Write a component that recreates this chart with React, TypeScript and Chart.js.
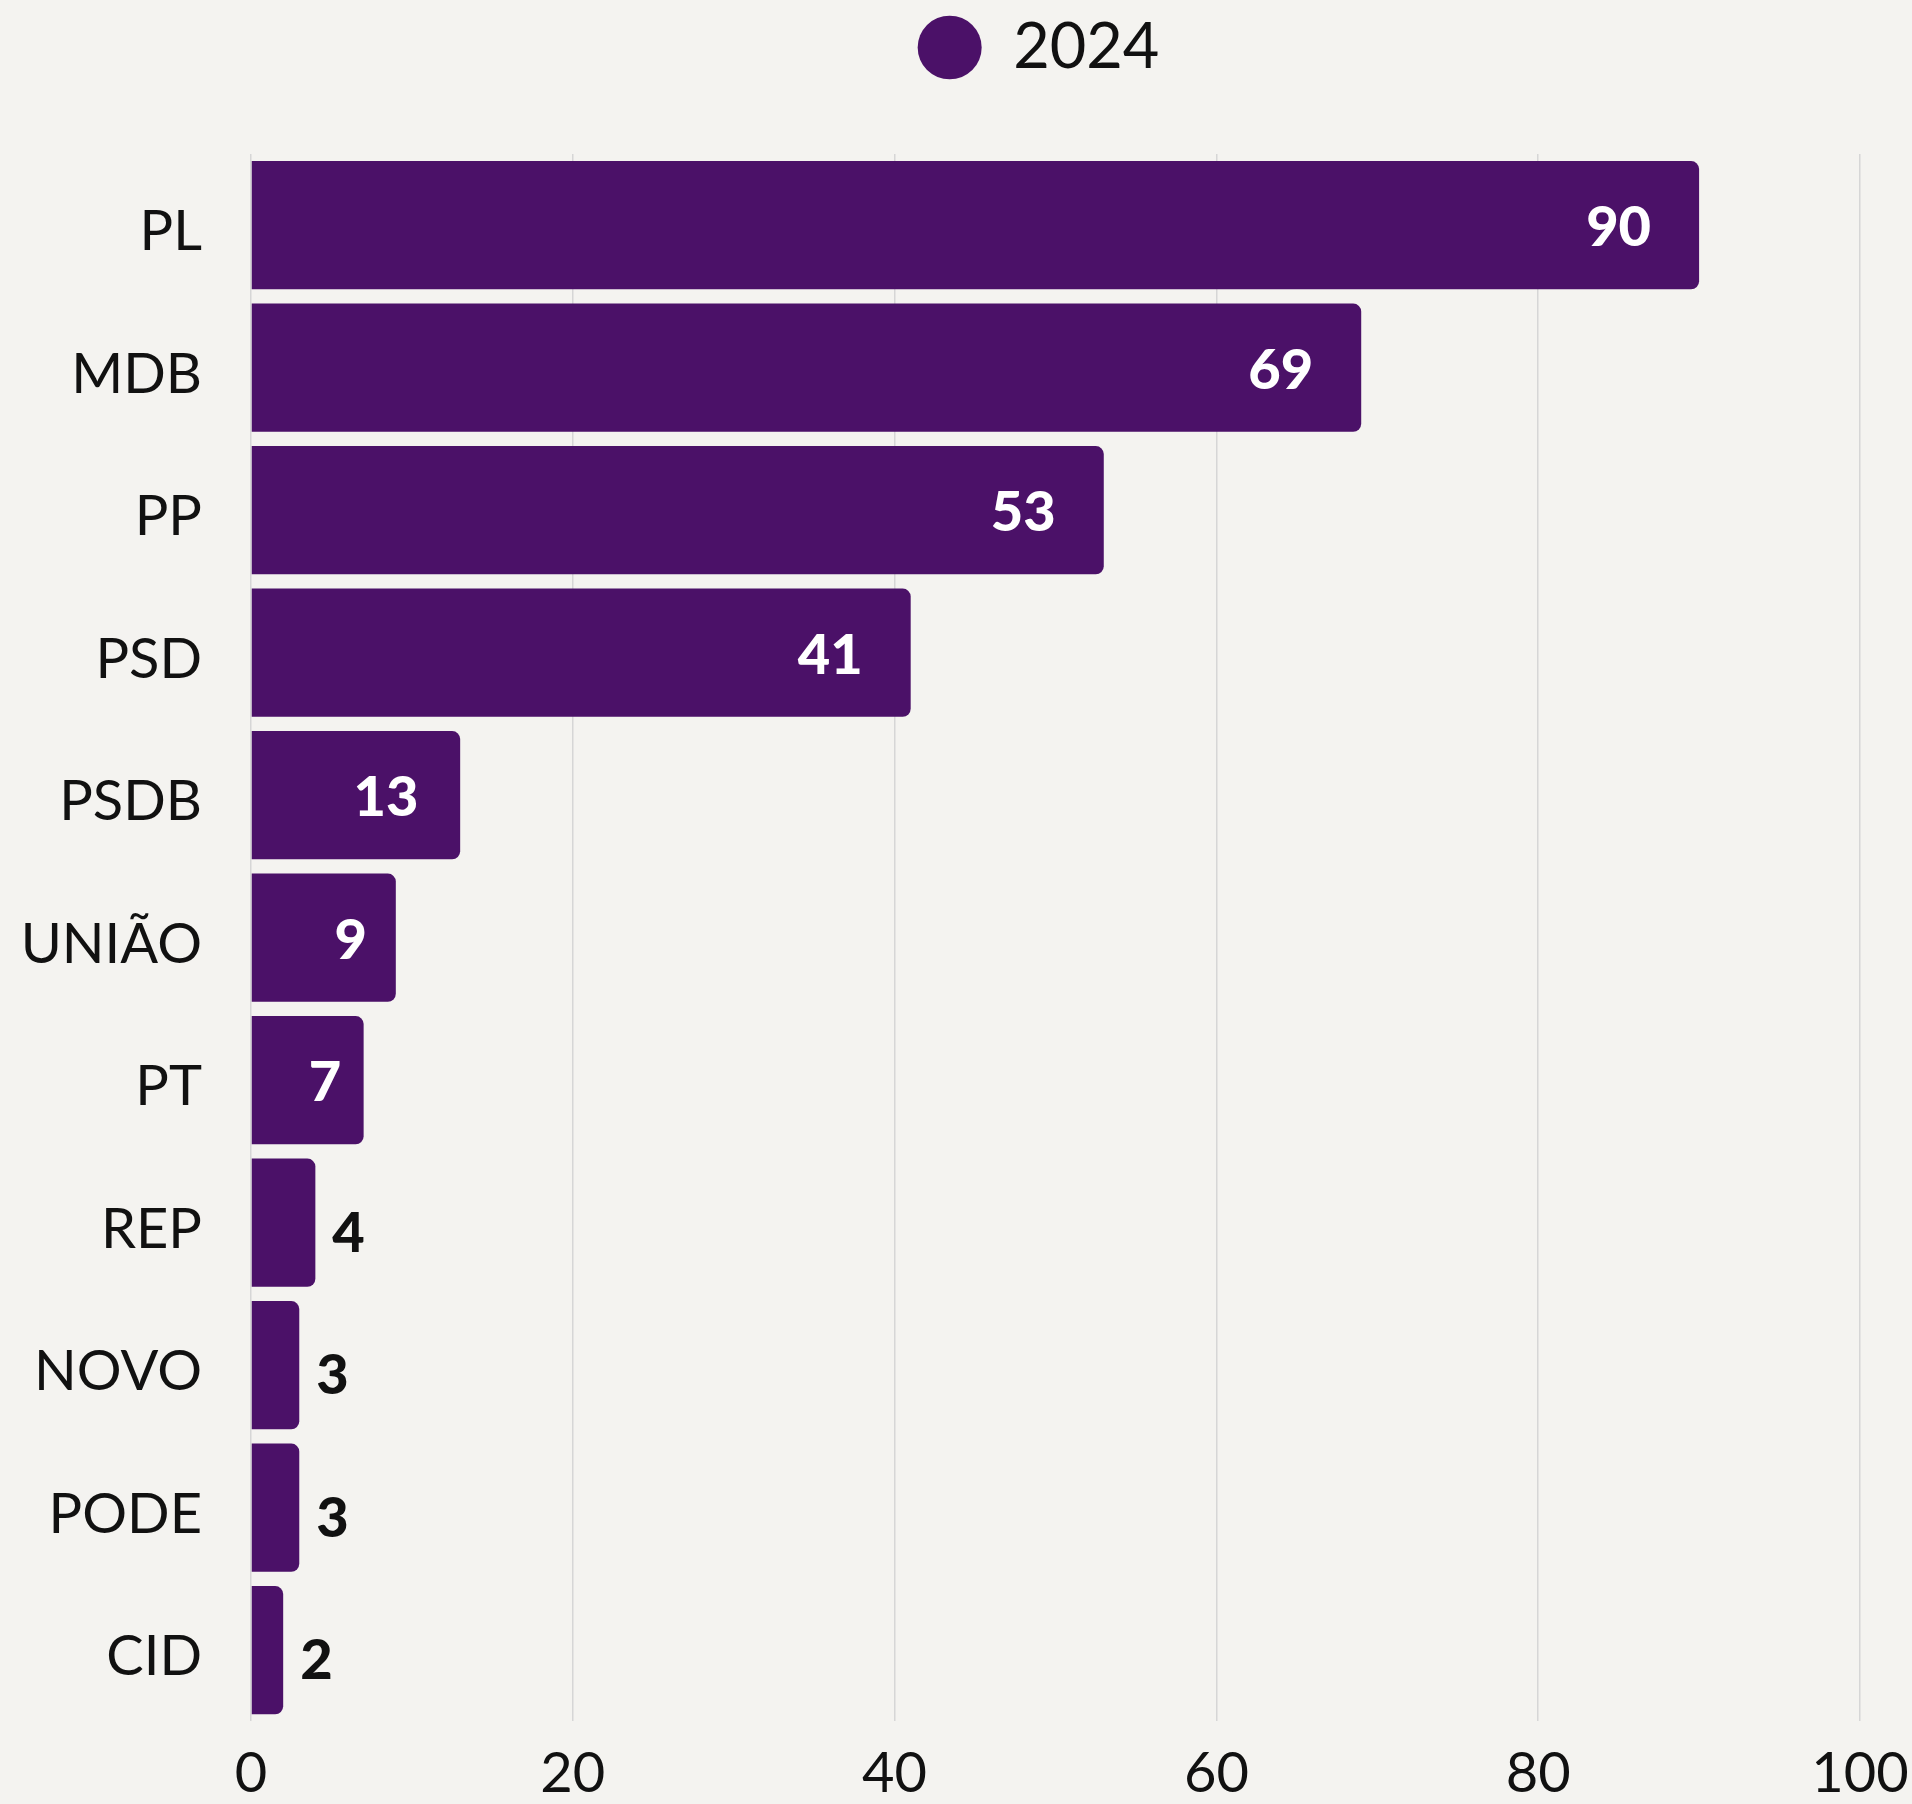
import React, { useEffect, useRef } from "react";
import { Chart, registerables } from "chart.js";

Chart.register(...registerables);

const categories = ["PL", "MDB", "PP", "PSD", "PSDB", "UNIÃO", "PT", "REP", "NOVO", "PODE", "CID"];
const values2024 = [90, 69, 53, 41, 13, 9, 7, 4, 3, 3, 2];
const seriesLabel = "2024";
const xMin = 0;
const xMax = 100;
const xStep = 20;

const BAR = "#4b1168";
const BG = "#f4f3f0";
const TEXT = "#111111";
const FONT = "Lato, 'Open Sans', sans-serif";

export default function App() {
  const ref = useRef<HTMLCanvasElement>(null);

  useEffect(() => {
    document.body.style.margin = "0";
    const canvas = ref.current!;

    const bgPlugin = {
      id: "bg",
      beforeDraw(chart: any) {
        const { ctx, width, height } = chart;
        ctx.save();
        ctx.fillStyle = BG;
        ctx.fillRect(0, 0, width, height);
        ctx.restore();
      },
    };

    const legendSpace = {
      id: "legendSpace",
      beforeInit(chart: any) {
        const legend = chart.legend;
        if (!legend) return;
        const fit = legend.fit;
        legend.fit = function () {
          fit.call(this);
          this.height += 65;
        };
      },
      afterLayout(chart: any) {
        const legend = chart.legend;
        if (!legend) return;
        legend.left = chart.chartArea.left;
        legend.right = chart.chartArea.right - 34;
      },
    };

    const valueLabels = {
      id: "valueLabels",
      afterDatasetsDraw(chart: any) {
        const ctx = chart.ctx;
        const meta = chart.getDatasetMeta(0);
        const data = chart.data.datasets[0].data as number[];
        ctx.save();
        ctx.font = `900 56px ${FONT}`;
        ctx.textBaseline = "middle";
        meta.data.forEach((bar: any, i: number) => {
          const v = data[i];
          const { x, y, base } = bar.getProps(["x", "y", "base"], true);
          const w = x - base;
          if (v >= 7) {
            ctx.fillStyle = "#ffffff";
            ctx.textAlign = "right";
            ctx.fillText(String(v), x - Math.min(48, w * 0.2), y + 3);
          } else {
            ctx.fillStyle = TEXT;
            ctx.textAlign = "left";
            ctx.fillText(String(v), x + 17, y + 11);
          }
        });
        ctx.restore();
      },
    };

    const chart = new Chart(canvas, {
      type: "bar",
      data: {
        labels: categories,
        datasets: [
          {
            label: seriesLabel,
            data: values2024,
            backgroundColor: BAR,
            borderWidth: 0,
            borderRadius: 8,
            borderSkipped: "start",
            barPercentage: 0.9,
            categoryPercentage: 1,
          },
        ],
      },
      options: {
        indexAxis: "y",
        responsive: false,
        devicePixelRatio: 1,
        animation: false,
        layout: { padding: { top: 0, right: 52, bottom: 0, left: 0 } },
        plugins: {
          tooltip: { enabled: false },
          legend: {
            display: true,
            position: "top",
            align: "center",
            labels: {
              usePointStyle: true,
              pointStyle: "circle",
              pointStyleWidth: 64,
              boxHeight: 45,
              color: TEXT,
              padding: 16,
              font: { family: FONT, size: 63 },
            },
          },
        },
        scales: {
          x: {
            type: "linear",
            min: xMin,
            max: xMax,
            ticks: {
              stepSize: xStep,
              color: TEXT,
              padding: 19,
              font: { family: FONT, size: 56 },
            },
            grid: { color: "#d6d6d6", lineWidth: 1.5, drawTicks: false },
            border: { display: false },
            afterFit: (s: any) => {
              s.height = 76;
              s.paddingRight = 0;
              s.paddingLeft = 0;
            },
          },
          y: {
            ticks: {
              color: TEXT,
              padding: 49,
              labelOffset: 7,
              font: { family: FONT, size: 56 },
            },
            grid: { display: false, drawTicks: false },
            border: { display: false },
            afterFit: (s: any) => {
              s.width = 251;
            },
          },
        },
      },
      plugins: [bgPlugin, legendSpace, valueLabels],
    } as any);

    return () => chart.destroy();
  }, []);

  return (
    <div style={{ width: 1912, height: 1804 }}>
      <canvas ref={ref} width={1912} height={1804} style={{ display: "block" }} />
    </div>
  );
}
